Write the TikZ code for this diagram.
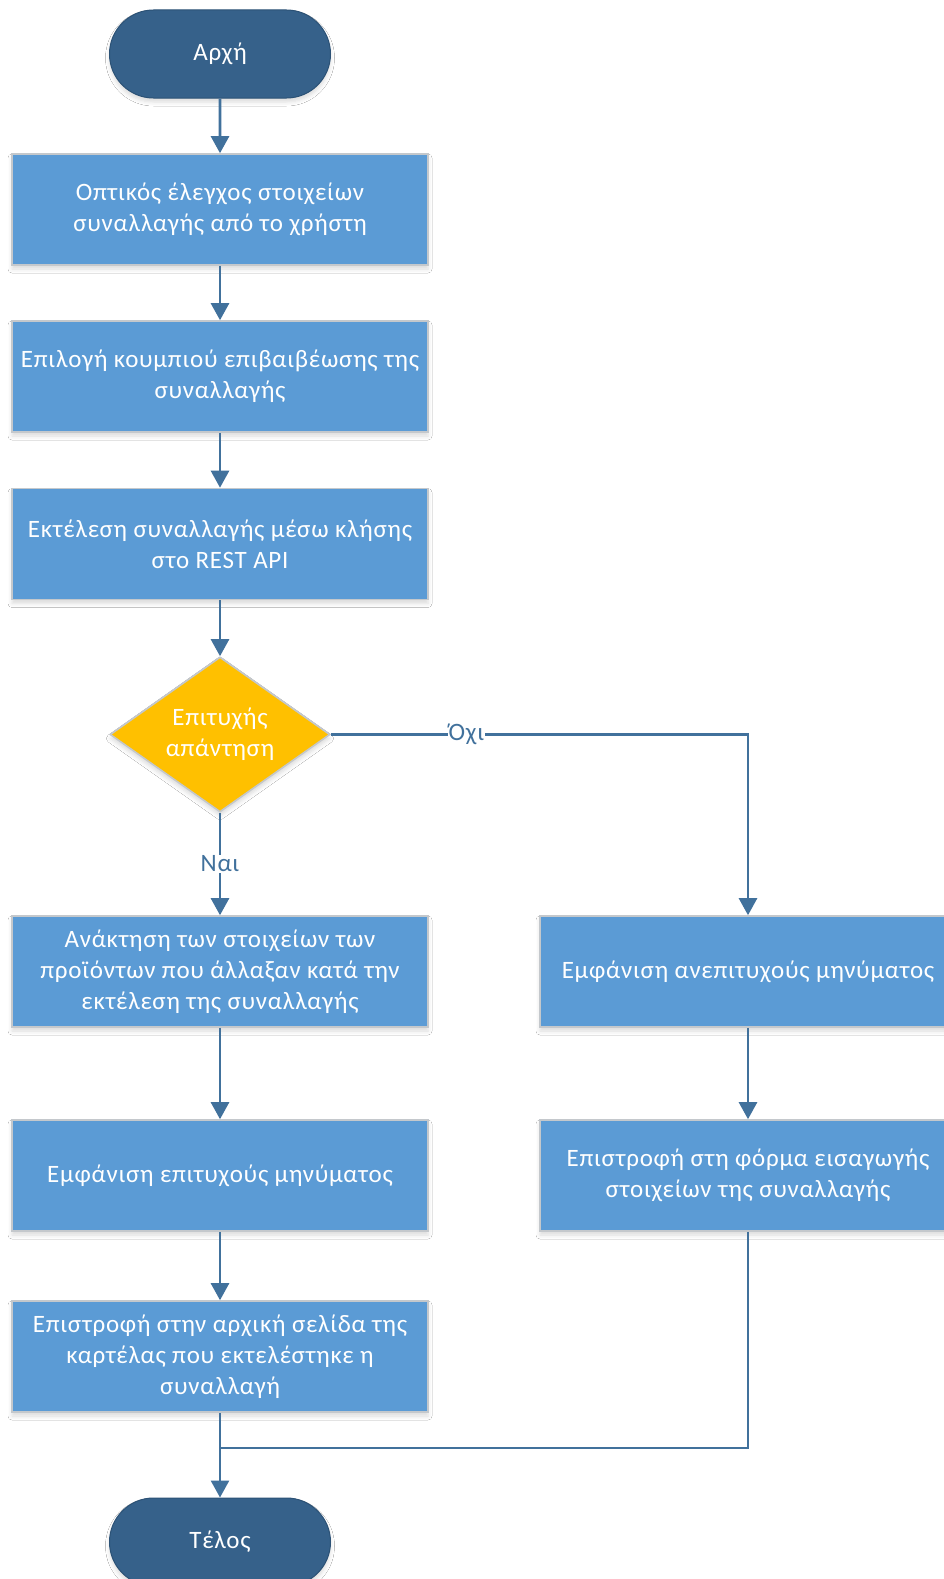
\documentclass[tikz,border=0pt]{standalone}
\usepackage{fontspec}
\setmainfont{Carlito}[LetterSpace=3]
\usetikzlibrary{arrows.meta,shapes.geometric,shapes.misc,shadows.blur}

\definecolor{procfill}{HTML}{5B9BD5}
\definecolor{procedge}{HTML}{C4C8CC}
\definecolor{termfill}{HTML}{36618A}
\definecolor{termedge}{HTML}{2C5276}
\definecolor{decfill}{HTML}{FFC000}
\definecolor{flowline}{HTML}{41719C}

\tikzset{
  softshadow/.style={blur shadow={shadow xshift=0pt, shadow yshift=-4pt,
      shadow blur radius=4pt, shadow opacity=14}},
  procbox/.style={rectangle, fill=procfill, draw=procedge, line width=1.6pt,
      minimum width=416pt, minimum height=111pt, inner sep=0pt,
      align=center, text=white, font=\fontsize{25}{31}\selectfont, softshadow},
  terminal/.style={rounded rectangle, fill=termfill, draw=termedge, line width=1pt,
      minimum width=221pt, minimum height=88pt, inner sep=0pt,
      text=white, font=\fontsize{25}{31}\selectfont, softshadow},
  decision/.style={diamond, aspect=1.42, fill=decfill, draw=procedge, line width=1.6pt,
      minimum width=220pt, minimum height=155pt, inner sep=0pt,
      align=center, text=white, font=\fontsize{25}{31}\selectfont, softshadow},
  flow/.style={draw=flowline, line width=2.6pt},
  arrowflow/.style={flow, -{Triangle[width=18pt,length=17pt]}},
  edgelabel/.style={fill=white, inner sep=1pt, text=flowline,
      font=\fontsize{25}{31}\selectfont},
}

\begin{document}
\begin{tikzpicture}[x=1pt, y=-1pt]
  \clip (0,0) rectangle (944,1579);
  \fill[white] (0,0) rectangle (944,1579);

  % main column
  \node[terminal] (start) at (220,54) {Αρχή};
  \node[procbox] (check) at (220,209.5) {Οπτικός έλεγχος στοιχείων\\συναλλαγής από το χρήστη};
  \node[procbox] (confirm) at (220,376.5) {Επιλογή κουμπιού επιβαιβέωσης της\\συναλλαγής};
  \node[procbox] (execute) at (220,544) {Εκτέλεση συναλλαγής μέσω κλήσης\\στο REST API};
  \node[decision] (ok) at (220,734.5) {Επιτυχής\\απάντηση};
  \node[procbox] (fetch) at (220,971.5) {Ανάκτηση των στοιχείων των\\προϊόντων που άλλαξαν κατά την\\εκτέλεση της συναλλαγής};
  \node[procbox] (success) at (220,1175.5) {Εμφάνιση επιτυχούς μηνύματος};
  \node[procbox] (home) at (220,1356.5) {Επιστροφή στην αρχική σελίδα της\\καρτέλας που εκτελέστηκε η\\συναλλαγή};
  \node[terminal] (stop) at (220,1542) {Τέλος};

  % failure column
  \node[procbox] (failure) at (748,971.5) {Εμφάνιση ανεπιτυχούς μηνύματος};
  \node[procbox] (back) at (748,1175.5) {Επιστροφή στη φόρμα εισαγωγής\\στοιχείων της συναλλαγής};

  \coordinate (join) at (220,1448);

  % connectors
  \draw[arrowflow] (start) -- (check);
  \draw[arrowflow] (check) -- (confirm);
  \draw[arrowflow] (confirm) -- (execute);
  \draw[arrowflow] (execute) -- (ok);
  \draw[arrowflow] (ok) -- node[edgelabel, pos=0.5] {Ναι} (fetch);
  \draw[arrowflow] (ok.east) -- node[edgelabel, pos=0.325] {Όχι} (failure.north |- ok.east) -- (failure.north);
  \draw[arrowflow] (fetch) -- (success);
  \draw[arrowflow] (success) -- (home);
  \draw[arrowflow] (failure) -- (back);
  \draw[flow] (back.south) |- (join);
  \draw[arrowflow] (home.south) -- (stop.north);
\end{tikzpicture}
\end{document}
